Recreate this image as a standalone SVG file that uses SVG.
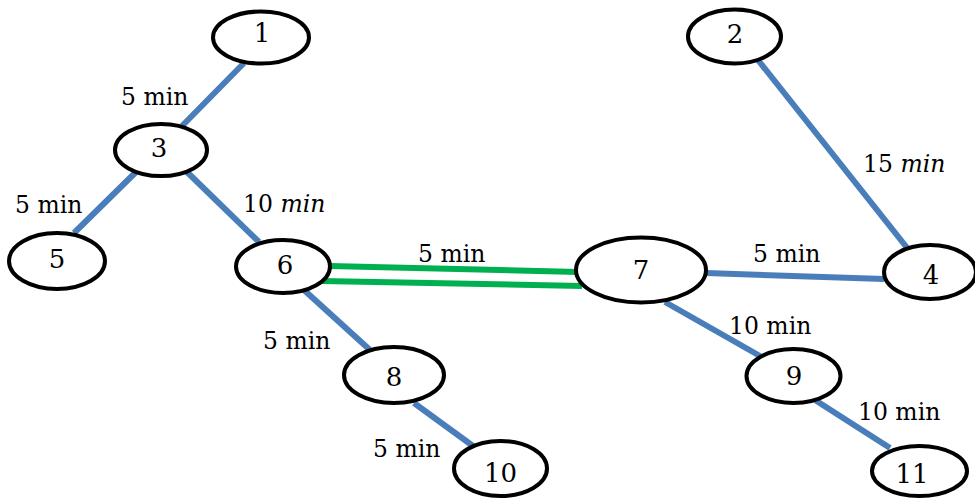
<svg xmlns="http://www.w3.org/2000/svg" width="975" height="500" viewBox="0 0 975 500">
  <style>
    .node ellipse { fill: #ffffff; stroke: #000000; stroke-width: 4; }
    .node text { font-family: "DejaVu Serif", "Liberation Serif", serif; font-size: 26px; fill: #000000; text-anchor: middle; }
    .edge { stroke: #4a7ebb; stroke-width: 6; fill: none; }
    .link { stroke: #00b050; stroke-width: 6; fill: none; }
    .lbl { font-family: "DejaVu Serif", "Liberation Serif", serif; font-size: 23.5px; fill: #000000; }
    .it { font-style: italic; }
  </style>

  <g id="connectors">
    <line class="edge" x1="244" y1="63" x2="182" y2="126"/>
    <line class="edge" x1="136" y1="172" x2="74" y2="233"/>
    <line class="edge" x1="187" y1="172" x2="259" y2="242"/>
    <line class="edge" x1="758" y1="60" x2="908" y2="249"/>
    <line class="edge" x1="706" y1="273" x2="884" y2="279"/>
    <line class="edge" x1="304" y1="290" x2="370" y2="350"/>
    <line class="edge" x1="414" y1="403" x2="473" y2="446"/>
    <line class="edge" x1="665" y1="302" x2="760" y2="356"/>
    <line class="edge" x1="815" y1="400" x2="890" y2="448"/>
    <line class="link" x1="330" y1="266" x2="578" y2="272"/>
    <line class="link" x1="321" y1="281" x2="582" y2="286"/>
  </g>

  <g id="edge-labels">
    <text class="lbl" x="121" y="105">5 min</text>
    <text class="lbl" x="15" y="213">5 min</text>
    <text class="lbl" x="243" y="212">10 <tspan class="it">min</tspan></text>
    <text class="lbl" x="863" y="172">15 <tspan class="it">min</tspan></text>
    <text class="lbl" x="753" y="262">5 min</text>
    <text class="lbl" x="418" y="262">5 min</text>
    <text class="lbl" x="263" y="349">5 min</text>
    <text class="lbl" x="373" y="457">5 min</text>
    <text class="lbl" x="729" y="334">10 min</text>
    <text class="lbl" x="858" y="420">10 min</text>
  </g>

  <g id="node-1" class="node"><ellipse cx="261" cy="37.5" rx="48" ry="26"/><text x="262" y="42">1</text></g>
  <g id="node-2" class="node"><ellipse cx="734.5" cy="36.5" rx="46.5" ry="27"/><text x="735" y="43">2</text></g>
  <g id="node-3" class="node"><ellipse cx="161" cy="150" rx="46" ry="26"/><text x="159" y="157">3</text></g>
  <g id="node-4" class="node"><ellipse cx="930" cy="272" rx="46" ry="27"/><text x="931" y="284">4</text></g>
  <g id="node-5" class="node"><ellipse cx="57" cy="261" rx="48" ry="28"/><text x="57" y="268">5</text></g>
  <g id="node-6" class="node"><ellipse cx="283" cy="266.5" rx="47" ry="26.5"/><text x="285" y="274">6</text></g>
  <g id="node-7" class="node"><ellipse cx="641" cy="270" rx="65" ry="32.5"/><text x="641" y="279">7</text></g>
  <g id="node-8" class="node"><ellipse cx="394" cy="375" rx="50" ry="28"/><text x="394" y="386">8</text></g>
  <g id="node-9" class="node"><ellipse cx="793.5" cy="376" rx="47" ry="27"/><text x="794" y="385">9</text></g>
  <g id="node-10" class="node"><ellipse cx="500.5" cy="468.5" rx="46.5" ry="27.5"/><text x="500.5" y="482">10</text></g>
  <g id="node-11" class="node"><ellipse cx="919.5" cy="471" rx="47.5" ry="25"/><text x="912" y="483">11</text></g>
</svg>
